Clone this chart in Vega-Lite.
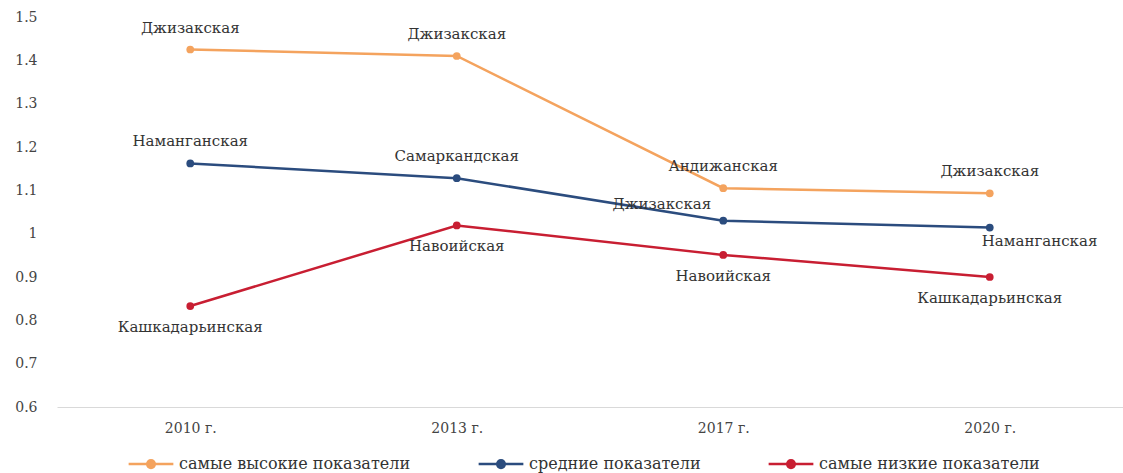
{
  "$schema": "https://vega.github.io/schema/vega-lite/v6.json",
  "width": 1123,
  "height": 473,
  "autosize": {"type": "fit", "contains": "padding"},
  "padding": {"left": 14, "right": 0, "top": 10, "bottom": 38},
  "background": "white",
  "config": {
    "view": {"stroke": null},
    "font": "DejaVu Serif",
    "axis": {"labelFont": "DejaVu Serif"},
    "legend": {"labelFont": "DejaVu Serif"},
    "text": {"font": "DejaVu Serif"}
  },
  "data": {
    "values": [
      {"year": "2010 г.", "series": "самые высокие показатели", "value": 1.425, "region": "Джизакская"},
      {"year": "2013 г.", "series": "самые высокие показатели", "value": 1.41, "region": "Джизакская"},
      {"year": "2017 г.", "series": "самые высокие показатели", "value": 1.105, "region": "Андижанская"},
      {"year": "2020 г.", "series": "самые высокие показатели", "value": 1.093, "region": "Джизакская"},
      {"year": "2010 г.", "series": "средние показатели", "value": 1.162, "region": "Наманганская"},
      {"year": "2013 г.", "series": "средние показатели", "value": 1.128, "region": "Самаркандская"},
      {"year": "2017 г.", "series": "средние показатели", "value": 1.03, "region": "Джизакская"},
      {"year": "2020 г.", "series": "средние показатели", "value": 1.014, "region": "Наманганская"},
      {"year": "2010 г.", "series": "самые низкие показатели", "value": 0.833, "region": "Кашкадарьинская"},
      {"year": "2013 г.", "series": "самые низкие показатели", "value": 1.019, "region": "Навоийская"},
      {"year": "2017 г.", "series": "самые низкие показатели", "value": 0.951, "region": "Навоийская"},
      {"year": "2020 г.", "series": "самые низкие показатели", "value": 0.9, "region": "Кашкадарьинская"}
    ]
  },
  "encoding": {
    "x": {
      "field": "year", "type": "nominal", "sort": null, "title": null,
      "scale": {"paddingInner": 0, "paddingOuter": 0},
      "axis": {"labelAngle": 0, "ticks": false, "domainColor": "#d9d9d9", "labelColor": "#444", "labelFontSize": 14, "labelPadding": 14}
    },
    "y": {
      "field": "value", "type": "quantitative", "title": null,
      "scale": {"domain": [0.6, 1.5], "nice": false, "zero": false},
      "axis": {"values": [0.6, 0.7, 0.8, 0.9, 1.0, 1.1, 1.2, 1.3, 1.4, 1.5], "grid": false, "domain": false, "ticks": false, "labelColor": "#444", "labelFontSize": 14, "labelPadding": 20, "labelExpr": "datum.value == 1 ? '1' : format(datum.value, '.1f')"}
    }
  },
  "layer": [
    {
      "mark": {"type": "line", "strokeWidth": 2.5, "point": {"filled": true, "size": 60}},
      "encoding": {
        "color": {
          "field": "series", "type": "nominal",
          "sort": ["самые высокие показатели", "средние показатели", "самые низкие показатели"],
          "scale": {"domain": ["самые высокие показатели", "средние показатели", "самые низкие показатели"], "range": ["#F4A35E", "#2B4C7E", "#C81E32"]},
          "legend": {
            "title": null, "orient": "none", "direction": "horizontal", "legendX": 70, "legendY": 423,
            "symbolType": "M-1,0L1,0M0.17,0A0.17,0.17 0 1,1 -0.17,0A0.17,0.17 0 1,1 0.17,0",
            "symbolSize": 2000, "symbolStrokeWidth": 2.5, "labelLimit": 400, "labelOffset": 4,
            "labelFontSize": 16, "labelColor": "#333", "columnPadding": 62
          }
        }
      }
    },
    {
      "transform": [{"filter": "datum.series == 'самые высокие показатели' || (datum.series == 'средние показатели' && (datum.year == '2010 г.' || datum.year == '2013 г.'))"}],
      "mark": {"type": "text", "dy": -22, "fontSize": 15, "color": "#333"},
      "encoding": {"text": {"field": "region"}}
    },
    {
      "transform": [{"filter": "datum.series == 'самые низкие показатели'"}],
      "mark": {"type": "text", "dy": 21, "fontSize": 15, "color": "#333"},
      "encoding": {"text": {"field": "region"}}
    },
    {
      "transform": [{"filter": "datum.series == 'средние показатели' && datum.year == '2017 г.'"}],
      "mark": {"type": "text", "dy": -17, "dx": -12, "align": "right", "fontSize": 15, "color": "#333"},
      "encoding": {"text": {"field": "region"}}
    },
    {
      "transform": [{"filter": "datum.series == 'средние показатели' && datum.year == '2020 г.'"}],
      "mark": {"type": "text", "dy": 13, "dx": -8, "align": "left", "fontSize": 15, "color": "#333"},
      "encoding": {"text": {"field": "region"}}
    }
  ]
}
